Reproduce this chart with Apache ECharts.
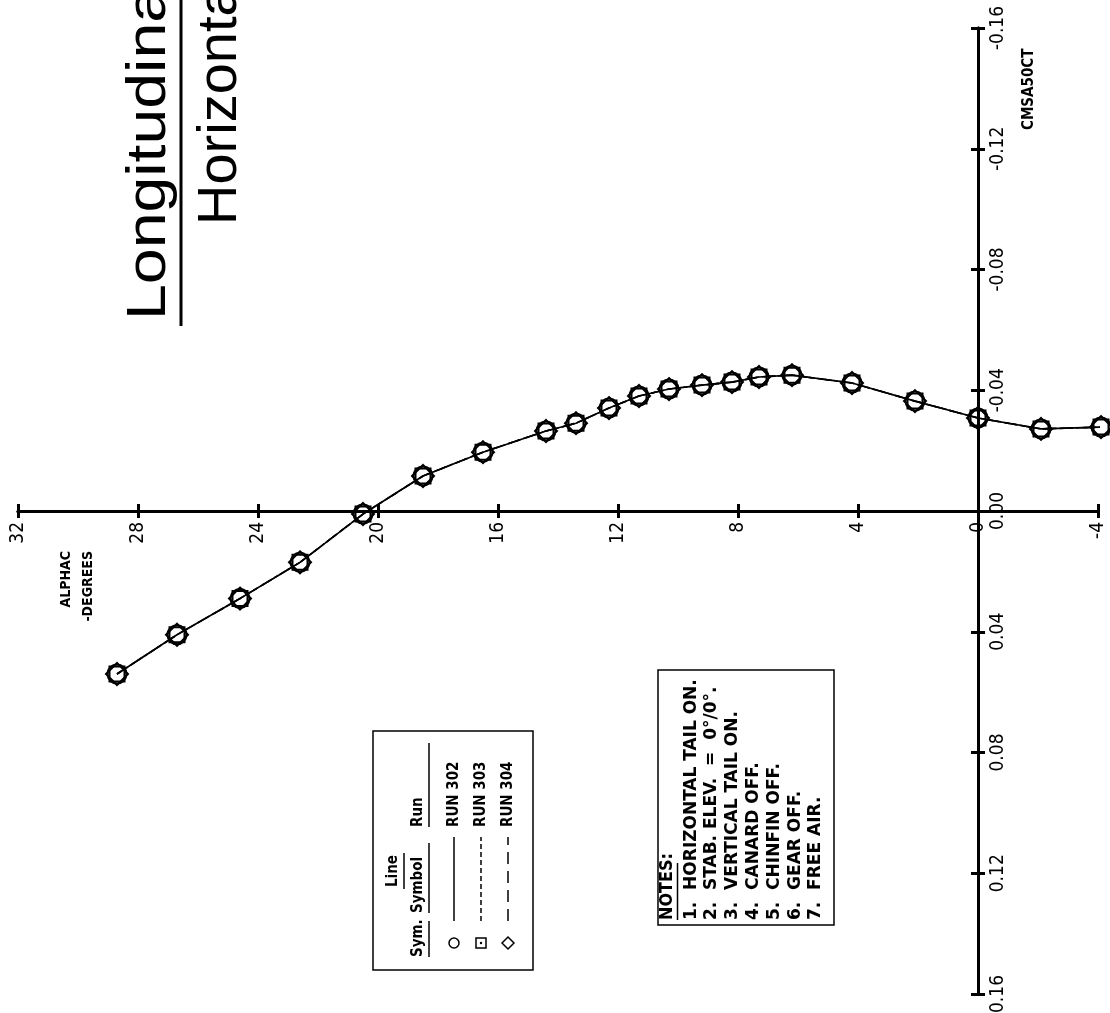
<!DOCTYPE html>
<html>
<head>
<meta charset="utf-8">
<script src="https://cdn.jsdelivr.net/npm/echarts@6/dist/echarts.min.js"></script>
<style>
  html, body { margin: 0; padding: 0; background: #fff; overflow: hidden; }
  #chart { width: 1110px; height: 1013px; }
</style>
</head>
<body>
<div id="chart"></div>
<script>
// Angle of attack, degrees
const alphaDeg = [28.7, 26.7, 24.6, 22.6, 20.5, 18.5, 16.5, 14.4, 13.4, 12.3, 11.3, 10.3, 9.2, 8.2, 7.3, 6.2, 4.2, 2.1, 0.0, -2.1, -4.1];
// Pitching moment coefficient for each run
const cmRun302 = [0.054, 0.041, 0.029, 0.017, 0.001, -0.0116, -0.0195, -0.0265, -0.0291, -0.0341, -0.0381, -0.0404, -0.0417, -0.0427, -0.0444, -0.0450, -0.0424, -0.0364, -0.0308, -0.0272, -0.0278];
const cmRun303 = [0.054, 0.041, 0.029, 0.017, 0.001, -0.0116, -0.0195, -0.0265, -0.0291, -0.0341, -0.0381, -0.0404, -0.0417, -0.0427, -0.0444, -0.0450, -0.0424, -0.0364, -0.0308, -0.0272, -0.0278];
const cmRun304 = [0.054, 0.041, 0.029, 0.017, 0.001, -0.0116, -0.0195, -0.0265, -0.0291, -0.0341, -0.0381, -0.0404, -0.0417, -0.0427, -0.0444, -0.0450, -0.0424, -0.0364, -0.0308, -0.0272, -0.0278];

const runNames = ['RUN 302', 'RUN 303', 'RUN 304'];
const noteLines = [
  '1.  HORIZONTAL TAIL ON.',
  '2.  STAB. ELEV.  =  0\u00b0/0\u00b0.',
  '3.  VERTICAL TAIL ON.',
  '4.  CANARD OFF.',
  '5.  CHINFIN OFF.',
  '6.  GEAR OFF.',
  '7.  FREE AIR.'
];

const NARROW = '"Liberation Sans Narrow", "DejaVu Sans Condensed", "Roboto Condensed", sans-serif';
const SANS = '"Liberation Sans", Arial, Helvetica, sans-serif';

const ALPHA_MIN = -4, ALPHA_MAX = 32, ALPHA_STEP = 4;
const CM_MIN = -0.16, CM_MAX = 0.16, CM_STEP = 0.04;

const zip = (xs, ys) => xs.map((x, i) => [x, ys[i]]);

const chart = echarts.init(document.getElementById('chart'));

const black = '#000';
const axisLineStyle = { color: black, width: 3 };
const tickStyle = { color: black, width: 3 };
const noLine = { show: false };

const alphaLabel = {
  rotate: 90, margin: 11, color: black, fontFamily: NARROW, fontSize: 19,
  formatter: v => String(v)
};
const cmLabel = {
  rotate: 90, margin: 11, color: black, fontFamily: NARROW, fontSize: 19,
  formatter: v => (Math.abs(v) < 1e-9 ? 0 : v).toFixed(2)
};

// Plot grid with both axis lines crossing at the origin, plus two helper grids
// whose edges sit on those lines and carry the tick labels.
const gridBox = { containLabel: false, outerBoundsMode: 'none' };
const grids = [
  Object.assign({ left: 18, right: 12, top: 28, bottom: 19 }, gridBox),
  Object.assign({ left: 18, right: 12, top: 28, bottom: 502 }, gridBox),
  Object.assign({ left: 18, right: 132, top: 28, bottom: 19 }, gridBox)
];

function alphaScale(extra) {
  return Object.assign({ type: 'value', min: ALPHA_MIN, max: ALPHA_MAX, interval: ALPHA_STEP, inverse: true, splitLine: noLine }, extra);
}
function cmScale(extra) {
  return Object.assign({ type: 'value', min: CM_MIN, max: CM_MAX, interval: CM_STEP, inverse: true, splitLine: noLine }, extra);
}
const crossLine = { show: true, onZero: true, onZeroAxisIndex: 0, lineStyle: axisLineStyle };
const crossTick = { show: true, length: 7, lineStyle: tickStyle };

const xAxes = [
  alphaScale({ gridIndex: 0, position: 'bottom', axisLine: crossLine, axisTick: crossTick, axisLabel: { show: false } }),
  alphaScale({ gridIndex: 0, position: 'top', axisLine: crossLine, axisTick: crossTick, axisLabel: { show: false } }),
  alphaScale({ gridIndex: 1, position: 'bottom', axisLine: { show: false, onZero: false }, axisTick: noLine, axisLabel: alphaLabel }),
  alphaScale({ gridIndex: 2, show: false })
];
const yAxes = [
  cmScale({ gridIndex: 0, position: 'right', axisLine: crossLine, axisTick: crossTick, axisLabel: { show: false } }),
  cmScale({ gridIndex: 0, position: 'left', axisLine: crossLine, axisTick: crossTick, axisLabel: { show: false } }),
  cmScale({ gridIndex: 1, show: false }),
  cmScale({ gridIndex: 2, position: 'right', axisLine: { show: false, onZero: false }, axisTick: noLine, axisLabel: cmLabel })
];

function runSeries(name, cm, symbol, size, dash) {
  return {
    name, type: 'line', xAxisIndex: 0, yAxisIndex: 0, data: zip(alphaDeg, cm),
    symbol, symbolSize: size, clip: false,
    lineStyle: { color: black, width: 1.6, type: dash },
    itemStyle: { color: 'rgba(0,0,0,0)', borderColor: black, borderWidth: 2 },
    emphasis: { disabled: true },
    animation: false
  };
}

// Overlay items laid out in upright page coordinates; the group turns them a quarter turn
function T(text, x, y, size, o = {}) {
  return {
    type: 'text', x, y, scaleX: o.sx || 1, scaleY: 1,
    style: {
      text, fill: black,
      font: `${o.weight || 'bold'} ${size}px ${o.family || NARROW}`,
      align: o.align || 'left', textAlign: o.align || 'left',
      verticalAlign: 'middle', textVerticalAlign: 'middle'
    }
  };
}
function L(x1, y1, x2, y2, w = 1.5, dash) {
  return { type: 'line', shape: { x1, y1, x2, y2 }, style: { stroke: black, lineWidth: w, lineDash: dash || null } };
}

const pageItems = [];
// Title
pageItems.push(T('Longitudinal', 693, 150, 56, { weight: 'normal', family: SANS, sx: 1.15 }));
pageItems.push(L(687, 181, 1120, 181, 3));
pageItems.push(T('Horizontal', 788, 221, 56, { weight: 'normal', family: SANS }));

// Axis names
pageItems.push(T('ALPHAC', 462, 66, 14, { align: 'right' }));
pageItems.push(T('-DEGREES', 462, 88, 14, { align: 'right' }));
pageItems.push(T('CMSA50CT', 883, 1029, 15));

// Legend box
pageItems.push({ type: 'rect', shape: { x: 43, y: 373, width: 239, height: 160 }, style: { fill: 'transparent', stroke: black, lineWidth: 1.5 } });
pageItems.push(T('Line', 142, 393, 15, { align: 'center' }));
pageItems.push(L(124, 404, 160, 404, 1.5));
pageItems.push(T('Sym.', 56, 418, 15));
pageItems.push(L(56, 429, 92, 429, 1.5));
pageItems.push(T('Symbol', 100, 418, 15));
pageItems.push(L(100, 429, 170, 429, 1.5));
pageItems.push(T('Run', 186, 418, 15));
pageItems.push(L(186, 429, 270, 429, 1.5));
const rowY = [454, 481, 508];
const dashes = [null, [5, 3], [12, 7]];
rowY.forEach((y, i) => {
  pageItems.push(L(92, y, 176, y, 1.5, dashes[i]));
  pageItems.push(T(runNames[i], 186, y, 15));
});
pageItems.push({ type: 'circle', shape: { cx: 70, cy: rowY[0], r: 5 }, style: { fill: 'transparent', stroke: black, lineWidth: 1.5 } });
pageItems.push({ type: 'rect', shape: { x: 65, y: rowY[1] - 5, width: 10, height: 10 }, style: { fill: 'transparent', stroke: black, lineWidth: 1.5 } });
pageItems.push({ type: 'circle', shape: { cx: 70, cy: rowY[1], r: 1.2 }, style: { fill: black } });
pageItems.push({ type: 'polygon', shape: { points: [[70, rowY[2] - 6], [76, rowY[2]], [70, rowY[2] + 6], [64, rowY[2]]] }, style: { fill: 'transparent', stroke: black, lineWidth: 1.5 } });

// Notes box
pageItems.push({ type: 'rect', shape: { x: 88, y: 658, width: 255, height: 176 }, style: { fill: 'transparent', stroke: black, lineWidth: 1.5 } });
pageItems.push(T('NOTES:', 93, 668, 17, { sx: 1.05 }));
pageItems.push(L(93, 677.5, 150, 677.5, 1.5));
noteLines.forEach((s, i) => pageItems.push(T(s, 93, 691 + i * 20.8, 17.5, { sx: 1.08 })));

chart.setOption({
  animation: false,
  backgroundColor: '#fff',
  textStyle: { fontFamily: NARROW },
  grid: grids,
  xAxis: xAxes,
  yAxis: yAxes,
  series: [
    runSeries(runNames[0], cmRun302, 'circle', 19, 'solid'),
    runSeries(runNames[1], cmRun303, 'rect', 15, [5, 3]),
    runSeries(runNames[2], cmRun304, 'diamond', 22, [12, 7])
  ],
  graphic: [{
    type: 'group', x: 0, y: 1013, rotation: Math.PI / 2,
    children: pageItems
  }]
});
</script>
</body>
</html>
